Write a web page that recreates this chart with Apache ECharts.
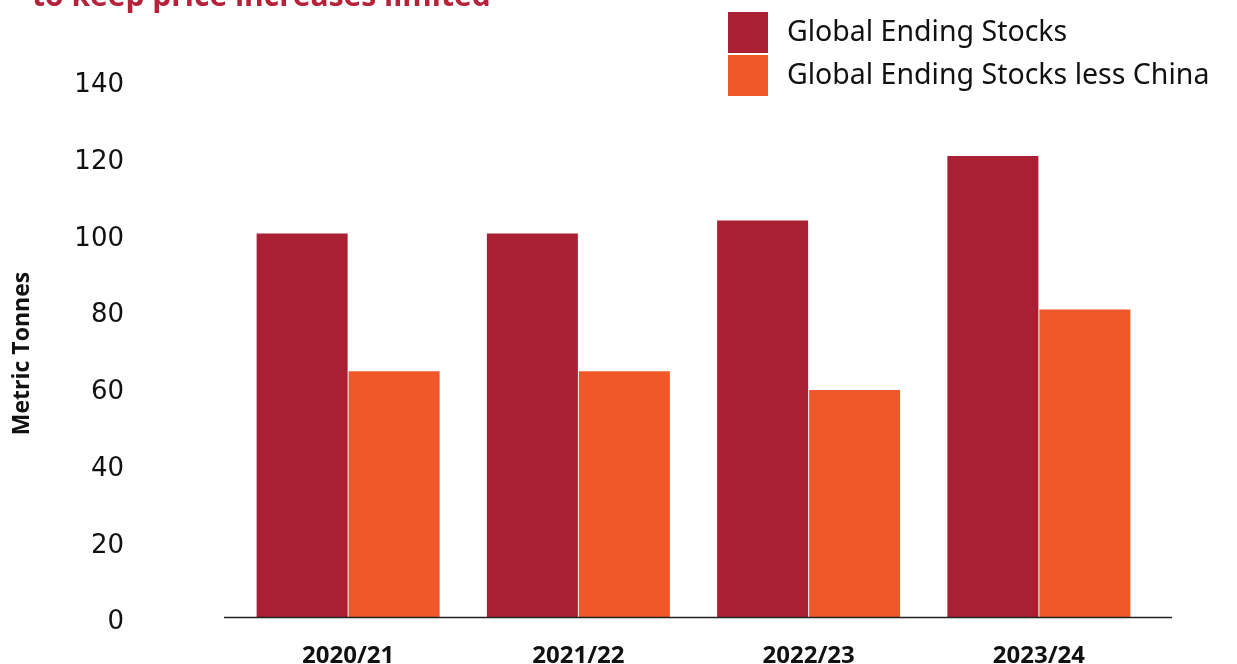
<!DOCTYPE html>
<html>
<head>
<meta charset="utf-8">
<script src="https://cdn.jsdelivr.net/npm/echarts@6/dist/echarts.min.js"></script>
<style>
  html, body { margin: 0; padding: 0; background: #fff; }
  #chart { width: 1237px; height: 664px; }
</style>
</head>
<body>
<div id="chart"></div>
<script>
// Marketing years on the category axis
const seasons = ['2020/21', '2021/22', '2022/23', '2023/24'];
// Ending stocks, metric tonnes
const globalStocks = [100, 100, 103.4, 120.2];
const globalLessChina = [64.1, 64.1, 59.2, 80.2];
// Value axis ticks
const yTicks = [0, 20, 40, 60, 80, 100, 120, 140];

const RED = '#a91f33';
const ORANGE = '#f0572a';

const chart = echarts.init(document.getElementById('chart'), null, { renderer: 'canvas' });

chart.setOption({
  animation: false,
  backgroundColor: '#ffffff',
  graphic: [
    {
      type: 'text',
      left: 32,
      top: -18,
      style: {
        text: 'to keep price increases limited',
        font: 'bold 30px "Open Sans"',
        fill: '#b5223a'
      }
    },
    {
      // baseline under the bars
      type: 'line',
      shape: { x1: 224, y1: 617.5, x2: 1172, y2: 617.5 },
      style: { stroke: '#222', lineWidth: 1.5 },
      z: 10
    }
  ],
  legend: {
    orient: 'vertical',
    left: 723,
    top: 7,
    itemWidth: 40,
    itemHeight: 41,
    itemGap: 2,
    icon: 'rect',
    textStyle: {
      fontFamily: 'Noto Sans',
      fontSize: 28.5,
      color: '#111',
      padding: [0, 0, 0, 14]
    },
    data: ['Global Ending Stocks', 'Global Ending Stocks less China']
  },
  grid: {
    left: 233,
    right: 83,
    top: 80,
    bottom: 47,
    containLabel: false,
    outerBoundsMode: 'none'
  },
  xAxis: {
    type: 'category',
    data: seasons,
    axisLine: { show: false },
    axisTick: { show: false },
    axisLabel: {
      margin: 27,
      fontFamily: 'Open Sans',
      fontWeight: 'bold',
      fontSize: 24,
      color: '#111'
    }
  },
  yAxis: {
    type: 'value',
    min: yTicks[0],
    max: yTicks[yTicks.length - 1],
    interval: yTicks[1] - yTicks[0],
    name: 'Metric Tonnes',
    nameLocation: 'middle',
    nameGap: 199,
    nameTextStyle: {
      fontFamily: 'Open Sans',
      fontWeight: 'bold',
      fontSize: 23,
      color: '#111',
      padding: [0, 10, 0, 0]
    },
    axisLine: { show: false },
    axisTick: { show: false },
    splitLine: { show: false },
    axisLabel: {
      margin: 109,
      fontFamily: 'DejaVu Sans',
      fontSize: 26,
      color: '#111',
      verticalAlign: 'top',
      lineHeight: 11
    }
  },
  series: [
    {
      name: 'Global Ending Stocks',
      type: 'bar',
      data: globalStocks,
      barWidth: 91,
      barGap: '1.1%',
      itemStyle: { color: RED }
    },
    {
      name: 'Global Ending Stocks less China',
      type: 'bar',
      data: globalLessChina,
      barWidth: 91,
      itemStyle: { color: ORANGE }
    }
  ]
});
</script>
</body>
</html>
